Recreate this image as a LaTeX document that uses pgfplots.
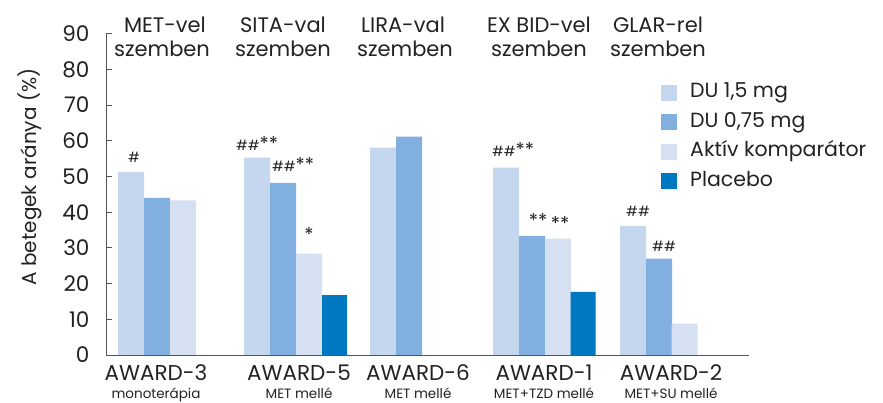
\documentclass[border=0pt]{standalone}
\usepackage{pgfplots}
\pgfplotsset{compat=1.18}
\usepackage{fontspec}
\setmainfont{Poppins}
\definecolor{cA}{HTML}{C4D7EF}
\definecolor{cB}{HTML}{81AFE0}
\definecolor{cC}{HTML}{D5E1F3}
\definecolor{cD}{HTML}{0077C1}
\definecolor{axgray}{HTML}{555555}
\definecolor{txt}{HTML}{222222}
\newcommand{\st}{{\fontsize{19}{19}\selectfont *}}
\begin{document}
\begin{tikzpicture}[x=1pt,y=1pt]
\useasboundingbox (0,0) rectangle (883,403);
\begin{axis}[
  at={(106pt,48pt)}, anchor=south west,
  scale only axis, width=643pt, height=321.3pt,
  xmin=106, xmax=749, ymin=0, ymax=90,
  axis lines=left, axis line style={axgray, line width=0.8pt, -},
  ytick={0,10,...,90},
  tick style={axgray, line width=0.8pt},
  ytick pos=left, tick align=inside, major tick length=6pt,
  yticklabel style={font=\fontsize{21.5}{22}\selectfont, text=txt, xshift=-13pt},
  /pgf/number format/assume math mode=true,
  xtick={156,299,418,544,671},
  xticklabels={{AWARD-3\\[-3.5pt]{\fontsize{13.5}{14}\selectfont monoterápia}},
               {AWARD-5\\[-3.5pt]{\fontsize{13.5}{14}\selectfont MET mellé}},
               {AWARD-6\\[-3.5pt]{\fontsize{13.5}{14}\selectfont MET mellé}},
               {AWARD-1\\[-3.5pt]{\fontsize{13.5}{14}\selectfont MET+TZD mellé}},
               {AWARD-2\\[-3.5pt]{\fontsize{13.5}{14}\selectfont MET+SU mellé}}},
  xticklabel style={font=\fontsize{21.5}{22}\selectfont, text=txt, align=center, yshift=-6pt},
  x tick style={draw=none},
  ylabel={A betegek aránya (\%)},
  ylabel style={font=\fontsize{20}{22}\selectfont, text=txt, at={(axis description cs:-0.118,0.554)}, anchor=center},
  clip=false,
  legend style={draw=none, fill=none, at={(axis cs:658,77.5)}, anchor=north west,
    font=\fontsize{20.5}{22}\selectfont, text=txt,
    nodes={text height=15pt, text depth=5pt, inner sep=2pt}, row sep=5.6pt},
  legend cell align=left,
  legend image code/.code={\fill[#1] (0pt,-8pt) rectangle (16pt,8pt); \path (27pt,0pt);},
]
\addplot[ybar, bar shift=0pt, bar width=26, fill=cA, draw=none] coordinates {(131,51.3) (257,55.3) (383,58.1) (506,52.5) (633,36.2)};
\addplot[ybar, bar shift=0pt, bar width=26, fill=cB, draw=none] coordinates {(157,44.0) (283,48.2) (409,61.2) (532,33.4) (659,27.0)};
\addplot[ybar, bar shift=0pt, bar width=26, fill=cC, draw=none] coordinates {(183,43.3) (309,28.4) (558,32.6) (684.5,8.8)};
\addplot[ybar, bar shift=0pt, bar width=25, fill=cD, draw=none] coordinates {(334.5,16.8) (583,17.7)};
\legend{{DU 1,5 mg}, {DU 0,75 mg}, {Aktív komparátor}, {Placebo}}
% titles
\begin{scope}[every node/.style={font=\fontsize{21}{22}\selectfont, text=txt, anchor=base, inner sep=0pt}]
\node at (axis cs:165,90.2) {MET-vel};
\node at (axis cs:162,83.5) {szemben};
\node at (axis cs:283,90.2) {SITA-val};
\node at (axis cs:283,83.5) {szemben};
\node at (axis cs:403,90.2) {LIRA-val};
\node at (axis cs:405,83.5) {szemben};
\node at (axis cs:539,90.2) {EX BID-vel};
\node at (axis cs:539,83.5) {szemben};
\node at (axis cs:658,90.2) {GLAR-rel};
\node at (axis cs:658,83.5) {szemben};
\end{scope}
% annotations
\begin{scope}[every node/.style={font=\fontsize{14}{15}\selectfont, text=txt, anchor=base, inner sep=0pt}]
\node at (axis cs:134,53.8) {\#};
\node at (axis cs:257,57.4) {\#\#\st\st};
\node at (axis cs:293,51.3) {\#\#\st\st};
\node at (axis cs:309,31.8) {\st};
\node at (axis cs:513,55.5) {\#\#\st\st};
\node at (axis cs:538,35.6) {\st\st};
\node at (axis cs:560,34.8) {\st\st};
\node at (axis cs:638,38.9) {\#\#};
\node at (axis cs:664,28.9) {\#\#};
\end{scope}
\end{axis}
\end{tikzpicture}
\end{document}
